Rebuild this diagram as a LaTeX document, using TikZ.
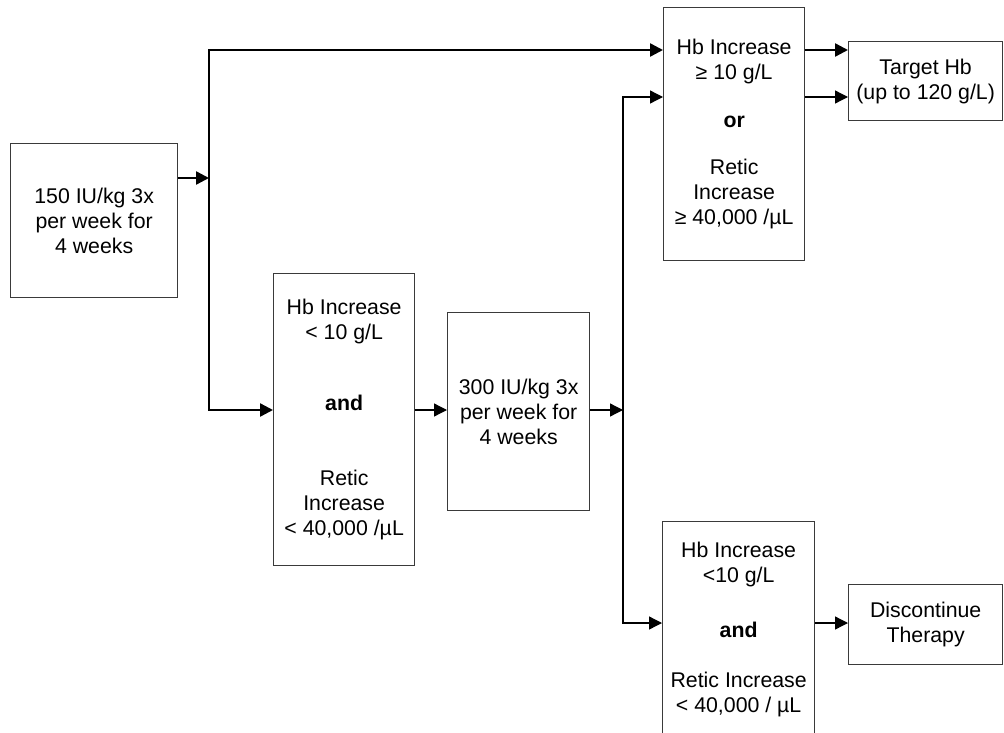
\documentclass[tikz,border=0pt]{standalone}
\usepackage{fontspec}
\setmainfont{Liberation Sans}
\usetikzlibrary{arrows.meta}
\definecolor{boxgray}{HTML}{3A3A3A}
\begin{document}
\begin{tikzpicture}[x=1pt,y=-1pt,
  box/.style={draw=boxgray, line width=1.3pt, align=center, inner sep=0pt, anchor=north west,
    font=\fontsize{21.3}{25}\selectfont},
  thickarr/.style={line width=2.4pt, -{Triangle[length=13pt,width=13pt]}},
  thinarr/.style={line width=1.3pt, -{Triangle[length=13pt,width=13pt]}},
  thickline/.style={line width=2.4pt},
  thinline/.style={line width=1.3pt}]
\useasboundingbox (0,0) rectangle (1004,733);
\node[box, minimum width=167pt, minimum height=154pt] (b1) at (10,143) {150 IU/kg 3x\\per week for\\4 weeks};
\node[box, minimum width=141pt, minimum height=253pt] (b2) at (663,7) {Hb Increase\\≥ 10 g/L\\[23pt]\textbf{or}\\[22pt]Retic\\Increase\\≥ 40,000 /µL};
\node[box, minimum width=154pt, minimum height=79pt] (tgt) at (848,41) {Target Hb\\(up to 120 g/L)};
\node[box, minimum width=141pt, minimum height=292pt] (b4) at (273,273) {Hb Increase\\< 10 g/L\\[46pt]\textbf{and}\\[50pt]Retic\\Increase\\< 40,000 /µL};
\node[box, minimum width=142pt, minimum height=198pt] (b5) at (447,312) {300 IU/kg 3x\\per week for\\4 weeks};
\node[box, minimum width=152pt, minimum height=216pt] (b6) at (662,521) {Hb Increase\\<10 g/L\\[30pt]\textbf{and}\\[25pt]Retic Increase\\< 40,000 / µL};
\node[box, minimum width=154pt, minimum height=80pt] (disc) at (848,584) {Discontinue\\Therapy};
\coordinate (j1) at (209,178);
\coordinate (j1top) at (209,50);
\coordinate (j1bot) at (209,410);
\coordinate (j2) at (623,410);
\coordinate (j2top) at (623,97);
\coordinate (j2bot) at (623,623);
\draw[thickarr] (b1.north east |- j1) -- (j1);
\draw[thickline] (j1top) -- (j1bot);
\draw[thickarr] (j1bot) -- (j1top) -- (b2.west |- j1top);
\draw[thickarr] (j1top) -- (j1bot) -- (b4.west |- j1bot);
\draw[thinarr] (b4.east |- j1bot) -- (b5.west |- j1bot);
\draw[thinarr] (b5.east |- j2) -- (j2);
\draw[thinarr] (j2bot) -- (j2top) -- (b2.west |- j2top);
\draw[thinarr] (j2top) -- (j2bot) -- (b6.west |- j2bot);
\draw[thickarr] (b2.east |- j1top) -- (tgt.west |- j1top);
\draw[thinarr] (b2.east |- j2top) -- (tgt.west |- j2top);
\draw[thinarr] (b6.east |- j2bot) -- (disc.west |- j2bot);
\end{tikzpicture}
\end{document}
